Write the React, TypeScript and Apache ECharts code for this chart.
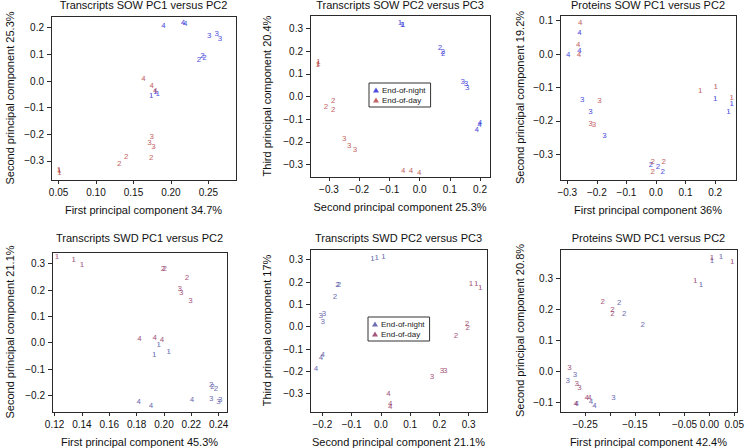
import React, { useEffect, useRef } from "react";
import * as echarts from "echarts";

// ---------- data: [x, y, label] ----------
// Transcripts SOW PC1 vs PC2
const sowTx12Night = [
  [0.19, 0.2075, "4"], [0.216, 0.219, "4"], [0.219, 0.216, "4"],
  [0.251, 0.1725, "3"], [0.261, 0.179, "3"], [0.2656, 0.16, "3"],
  [0.2376, 0.081, "2"], [0.242, 0.0975, "2"], [0.2447, 0.089, "2"],
  [0.1736, -0.055, "1"], [0.1789, -0.04, "1"], [0.1824, -0.046, "1"],
];
const sowTx12Day = [
  [0.1633, 0.01, "4"], [0.1744, -0.0175, "4"], [0.179, -0.036, "4"],
  [0.1744, -0.209, "3"], [0.1713, -0.231, "3"], [0.1767, -0.2475, "3"],
  [0.1402, -0.2825, "2"], [0.1309, -0.311, "2"], [0.1736, -0.286, "2"],
  [0.0504, -0.331, "1"], [0.0513, -0.344, "1"], [0.0509, -0.336, "1"],
];
// Transcripts SOW PC2 vs PC3
const sowTx23Night = [
  [-0.065, 0.325, "1"], [-0.058, 0.315, "1"], [-0.054, 0.319, "1"],
  [0.0675, 0.215, "2"], [0.0764, 0.197, "2"], [0.0786, 0.19, "2"],
  [0.1426, 0.0647, "3"], [0.1536, 0.057, "3"], [0.158, 0.04, "3"],
  [0.2, -0.116, "4"], [0.198, -0.122, "4"], [0.189, -0.1456, "4"],
];
const sowTx23Day = [
  [-0.335, 0.153, "1"], [-0.3375, 0.141, "1"], [-0.335, 0.146, "1"],
  [-0.31, -0.0426, "2"], [-0.2857, -0.016, "2"], [-0.2857, -0.057, "2"],
  [-0.25, -0.185, "3"], [-0.233, -0.215, "3"], [-0.214, -0.234, "3"],
  [-0.054, -0.325, "4"], [-0.0285, -0.328, "4"], [-0.0009, -0.335, "4"],
];
// Proteins SOW PC1 vs PC2
const sowPr12Night = [
  [-0.2966, -0.0027, "4"], [-0.2584, 0.065, "4"], [-0.2584, 0.012, "4"],
  [-0.2494, -0.1354, "3"], [-0.2213, -0.172, "3"], [-0.1742, -0.245, "3"],
  [-0.0169, -0.329, "2"], [0.0067, -0.337, "2"], [0.0225, -0.352, "2"],
  [0.2, -0.1324, "1"], [0.256, -0.149, "1"], [0.245, -0.172, "1"],
];
const sowPr12Day = [
  [-0.2562, 0.094, "4"], [-0.263, 0.029, "4"], [-0.2607, 0.0002, "4"],
  [-0.191, -0.14, "3"], [-0.2213, -0.207, "3"], [-0.21, -0.212, "3"],
  [0.0258, -0.32, "2"], [-0.0112, -0.322, "2"], [-0.0112, -0.35, "2"],
  [0.1494, -0.1095, "1"], [0.2022, -0.0955, "1"], [0.256, -0.1294, "1"],
];
// Transcripts SWD PC1 vs PC2
const swdTx12Night = [
  [0.1961, -0.0063, "1"], [0.1929, -0.0443, "1"], [0.2034, -0.033, "1"],
  [0.2346, -0.1595, "2"], [0.2354, -0.1646, "2"], [0.238, -0.1722, "2"],
  [0.2346, -0.2101, "3"], [0.2398, -0.2215, "3"], [0.2412, -0.2152, "3"],
  [0.1815, -0.2215, "4"], [0.1905, -0.238, "4"], [0.2205, -0.2165, "4"],
];
const swdTx12Day = [
  [0.1217, 0.328, "1"], [0.1339, 0.315, "1"], [0.14, 0.2975, "1"],
  [0.1993, 0.281, "2"], [0.2005, 0.281, "2"], [0.2168, 0.247, "2"],
  [0.2115, 0.2076, "3"], [0.2127, 0.1924, "3"], [0.2193, 0.1608, "3"],
  [0.182, 0.0152, "4"], [0.1932, 0.019, "4"], [0.1985, 0.0114, "4"],
];
// Transcripts SWD PC2 vs PC3
const swdTx23Night = [
  [-0.0288, 0.303, "1"], [-0.0139, 0.3104, "1"], [0.0089, 0.3134, "1"],
  [-0.1486, 0.1869, "2"], [-0.1429, 0.1869, "2"], [-0.1566, 0.1347, "2"],
  [-0.2057, 0.0499, "3"], [-0.1943, 0.0603, "3"], [-0.1989, 0.0246, "3"],
  [-0.1989, -0.1243, "4"], [-0.2046, -0.1362, "4"], [-0.2217, -0.1853, "4"],
];
const swdTx23Day = [
  [0.308, 0.1913, "1"], [0.3263, 0.1943, "1"], [0.34, 0.1764, "1"],
  [0.2943, 0.0127, "2"], [0.2966, -0.0022, "2"], [0.2566, -0.0394, "2"],
  [0.1744, -0.2211, "3"], [0.2087, -0.1957, "3"], [0.2201, -0.1957, "3"],
  [0.026, -0.297, "4"], [0.0317, -0.3446, "4"], [0.0317, -0.3565, "4"],
];
// Proteins SWD PC1 vs PC2
const swdPr12Night = [
  [0.005, 0.359, "1"], [0.0232, 0.371, "1"], [-0.0171, 0.2796, "1"],
  [-0.1815, 0.2215, "2"], [-0.1715, 0.185, "2"], [-0.1339, 0.1495, "2"],
  [-0.2701, -0.0118, "3"], [-0.2849, -0.0301, "3"], [-0.193, -0.0839, "3"],
  [-0.2668, -0.1054, "4"], [-0.2379, -0.0968, "4"], [-0.2312, -0.1108, "4"],
];
const swdPr12Day = [
  [0.005, 0.3677, "1"], [0.046, 0.355, "1"], [-0.0285, 0.2925, "1"],
  [-0.2144, 0.2247, "2"], [-0.195, 0.1989, "2"], [-0.195, 0.185, "2"],
  [-0.2815, 0.0129, "3"], [-0.2668, -0.0409, "3"], [-0.2614, -0.0516, "3"],
  [-0.2688, -0.1054, "4"], [-0.2466, -0.086, "4"], [-0.2413, -0.086, "4"],
];

// ---------- tick values ----------
const p1XTicks = [0.05, 0.1, 0.15, 0.2, 0.25];
const p1YTicks = [-0.3, -0.2, -0.1, 0, 0.1, 0.2];
const p2XTicks = [-0.3, -0.2, -0.1, 0, 0.1, 0.2];
const p2YTicks = [-0.3, -0.2, -0.1, 0, 0.1, 0.2, 0.3];
const p3XTicks = [-0.3, -0.2, -0.1, 0, 0.1, 0.2];
const p3YTicks = [-0.3, -0.2, -0.1, 0, 0.1];
const p4XTicks = [0.12, 0.14, 0.16, 0.18, 0.2, 0.22, 0.24];
const p4YTicks = [-0.2, -0.1, 0, 0.1, 0.2, 0.3];
const p5XTicks = [-0.2, -0.1, 0, 0.1, 0.2, 0.3];
const p5YTicks = [-0.3, -0.2, -0.1, 0, 0.1, 0.2, 0.3];
const p6XTickMarks = [-0.25, -0.2, -0.15, -0.1, -0.05, 0, 0.05];
const p6XLabels = [-0.25, -0.15, -0.05, 0, 0.05];
const p6YTicks = [-0.1, 0, 0.1, 0.2, 0.3];

const FONT = "'Liberation Sans', Arial, Helvetica, sans-serif";
const TOP = { night: "#2222d4", day: "#b43c3c" };
const BOT = { night: "#48489c", day: "#8e2c5c" };
const FRAME = "#2a2a2a";

const panels = [
  { key: "P1", title: "Transcripts SOW PC1 versus PC2", xName: "First principal component 34.7%", yName: "Second principal component 25.3%",
    night: sowTx12Night, day: sowTx12Day, xTicks: p1XTicks, xLabels: p1XTicks, yTicks: p1YTicks, xd: 2, yd: 1,
    box: [51, 16, 185, 164], xr: [0.0399, 0.2869], yr: [-0.3713, 0.2438], col: TOP, yGap: 36, legend: null },
  { key: "P2", title: "Transcripts SOW PC2 versus PC3", xName: "Second principal component 25.3%", yName: "Third principal component 20.4%",
    night: sowTx23Night, day: sowTx23Day, xTicks: p2XTicks, xLabels: p2XTicks, yTicks: p2YTicks, xd: 1, yd: 1,
    box: [310, 15, 180, 162], xr: [-0.3629, 0.2331], yr: [-0.3545, 0.3588], col: TOP, yGap: 38, legend: [369, 83] },
  { key: "P3", title: "Proteins SOW PC1 versus PC2", xName: "First principal component 36%", yName: "Second principal component 19.2%",
    night: sowPr12Night, day: sowPr12Day, xTicks: p3XTicks, xLabels: p3XTicks, yTicks: p3YTicks, xd: 1, yd: 1,
    box: [560, 15, 176, 165], xr: [-0.3246, 0.2706], yr: [-0.3768, 0.117], col: TOP, yGap: 35, legend: null },
  { key: "P4", title: "Transcripts SWD PC1 versus PC2", xName: "First principal component 45.3%", yName: "Second principal component 21.1%",
    night: swdTx12Night, day: swdTx12Day, xTicks: p4XTicks, xLabels: p4XTicks, yTicks: p4YTicks, xd: 2, yd: 1,
    box: [52, 252, 175, 160], xr: [0.1181, 0.2461], yr: [-0.2632, 0.3444], col: BOT, yGap: 37, legend: null },
  { key: "P5", title: "Transcripts SWD PC2 versus PC3", xName: "Second principal component 21.1%", yName: "Third principal component 17%",
    night: swdTx23Night, day: swdTx23Day, xTicks: p5XTicks, xLabels: p5XTicks, yTicks: p5YTicks, xd: 1, yd: 1,
    box: [310, 249, 177, 163], xr: [-0.2422, 0.3629], yr: [-0.3817, 0.3477], col: BOT, yGap: 38, legend: [368, 317] },
  { key: "P6", title: "Proteins SWD PC1 versus PC2", xName: "First principal component 42.4%", yName: "Second principal component 20.8%",
    night: swdPr12Night, day: swdPr12Day, xTicks: p6XTickMarks, xLabels: p6XLabels, yTicks: p6YTicks, xd: 2, yd: 1,
    box: [560, 249, 177, 163], xr: [-0.3004, 0.0553], yr: [-0.1322, 0.3946], col: BOT, yGap: 35, legend: null },
];

const fmt = (d: number) => (v: number) => {
  const a = Math.abs(v) < 1e-9 ? 0 : v;
  return (a < 0 ? "\u2212" : "") + Math.abs(a).toFixed(d);
};

function buildOption() {
  const grid: any[] = [];
  const xAxis: any[] = [];
  const yAxis: any[] = [];
  const series: any[] = [];
  const title: any[] = [];
  const legend: any[] = [];
  const frames: any[] = [];

  panels.forEach((p, i) => {
    const [l, t, w, h] = p.box;
    grid.push({ left: l, top: t, width: w, height: h, show: false });
    // frame drawn as four thin filled bars
    const bar = (x: number, y: number, bw: number, bh: number) => ({
      type: "rect", silent: true, z: 100,
      shape: { x, y, width: bw, height: bh },
      style: { fill: FRAME },
    });
    frames.push(bar(l, t, w + 1, 1));
    frames.push(bar(l, t + h, w + 1, 1));
    frames.push(bar(l, t, 1, h + 1));
    frames.push(bar(l + w, t, 1, h + 1));
    title.push({
      text: p.title, left: l + w / 2, top: t < 100 ? -1 : 232, textAlign: "center", padding: 0,
      textStyle: { fontFamily: FONT, fontSize: 11, fontWeight: "normal", color: "#111" },
    });
    xAxis.push({
      type: "value", gridIndex: i, position: "bottom", min: p.xr[0], max: p.xr[1],
      name: p.xName, nameLocation: "middle", nameGap: 24,
      nameTextStyle: { fontFamily: FONT, fontSize: 11, color: "#111" },
      axisLine: { show: false, onZero: false },
      axisTick: { show: true, inside: false, length: 4, customValues: p.xTicks, lineStyle: { color: FRAME, width: 1 } },
      axisLabel: { customValues: p.xLabels, formatter: fmt(p.xd), margin: 7, fontFamily: FONT, fontSize: 10, color: "#111" },
      splitLine: { show: false },
    });
    yAxis.push({
      type: "value", gridIndex: i, position: "left", min: p.yr[0], max: p.yr[1],
      name: p.yName, nameLocation: "middle", nameGap: p.yGap,
      nameTextStyle: { fontFamily: FONT, fontSize: 11, color: "#111" },
      axisLine: { show: false, onZero: false },
      axisTick: { show: true, inside: false, length: 4, customValues: p.yTicks, lineStyle: { color: FRAME, width: 1 } },
      axisLabel: { customValues: p.yTicks, formatter: fmt(p.yd), margin: 7, fontFamily: FONT, fontSize: 10, color: "#111" },
      splitLine: { show: false },
    });
    const mk = (name: string, data: any[], color: string) => ({
      type: "scatter", name, xAxisIndex: i, yAxisIndex: i,
      data, symbol: "triangle", symbolSize: 1,
      itemStyle: { color },
      label: {
        show: true, position: "inside", formatter: (q: any) => q.value[2],
        color, fontFamily: FONT, fontSize: 8,
      },
      emphasis: { disabled: true },
    });
    series.push(mk("End-of-night|" + p.key, p.night, p.col.night));
    series.push(mk("End-of-day|" + p.key, p.day, p.col.day));
    if (p.legend) {
      legend.push({
        left: p.legend[0], top: p.legend[1], orient: "vertical",
        data: [
          { name: "End-of-night|" + p.key, icon: "triangle" },
          { name: "End-of-day|" + p.key, icon: "triangle" },
        ],
        formatter: (n: string) => n.split("|")[0],
        itemWidth: 6, itemHeight: 5, itemGap: 2,
        padding: [3, 5, 3, 4], borderColor: "#333", borderWidth: 1, backgroundColor: "#fff",
        selectedMode: false,
        textStyle: { fontFamily: FONT, fontSize: 8, color: "#222", padding: [0, 0, 0, -2] },
      });
    }
  });

  return {
    animation: false, backgroundColor: "#fff", title, grid, xAxis, yAxis, series, legend,
    graphic: { elements: frames },
  };
}

export default function App() {
  const ref = useRef<HTMLDivElement>(null);
  useEffect(() => {
    if (!ref.current) return;
    const chart = echarts.init(ref.current, null, { renderer: "svg" });
    chart.setOption(buildOption() as any);
    return () => chart.dispose();
  }, []);
  return <div ref={ref} style={{ position: "absolute", left: 0, top: 0, width: 747, height: 448, background: "#fff" }} />;
}
